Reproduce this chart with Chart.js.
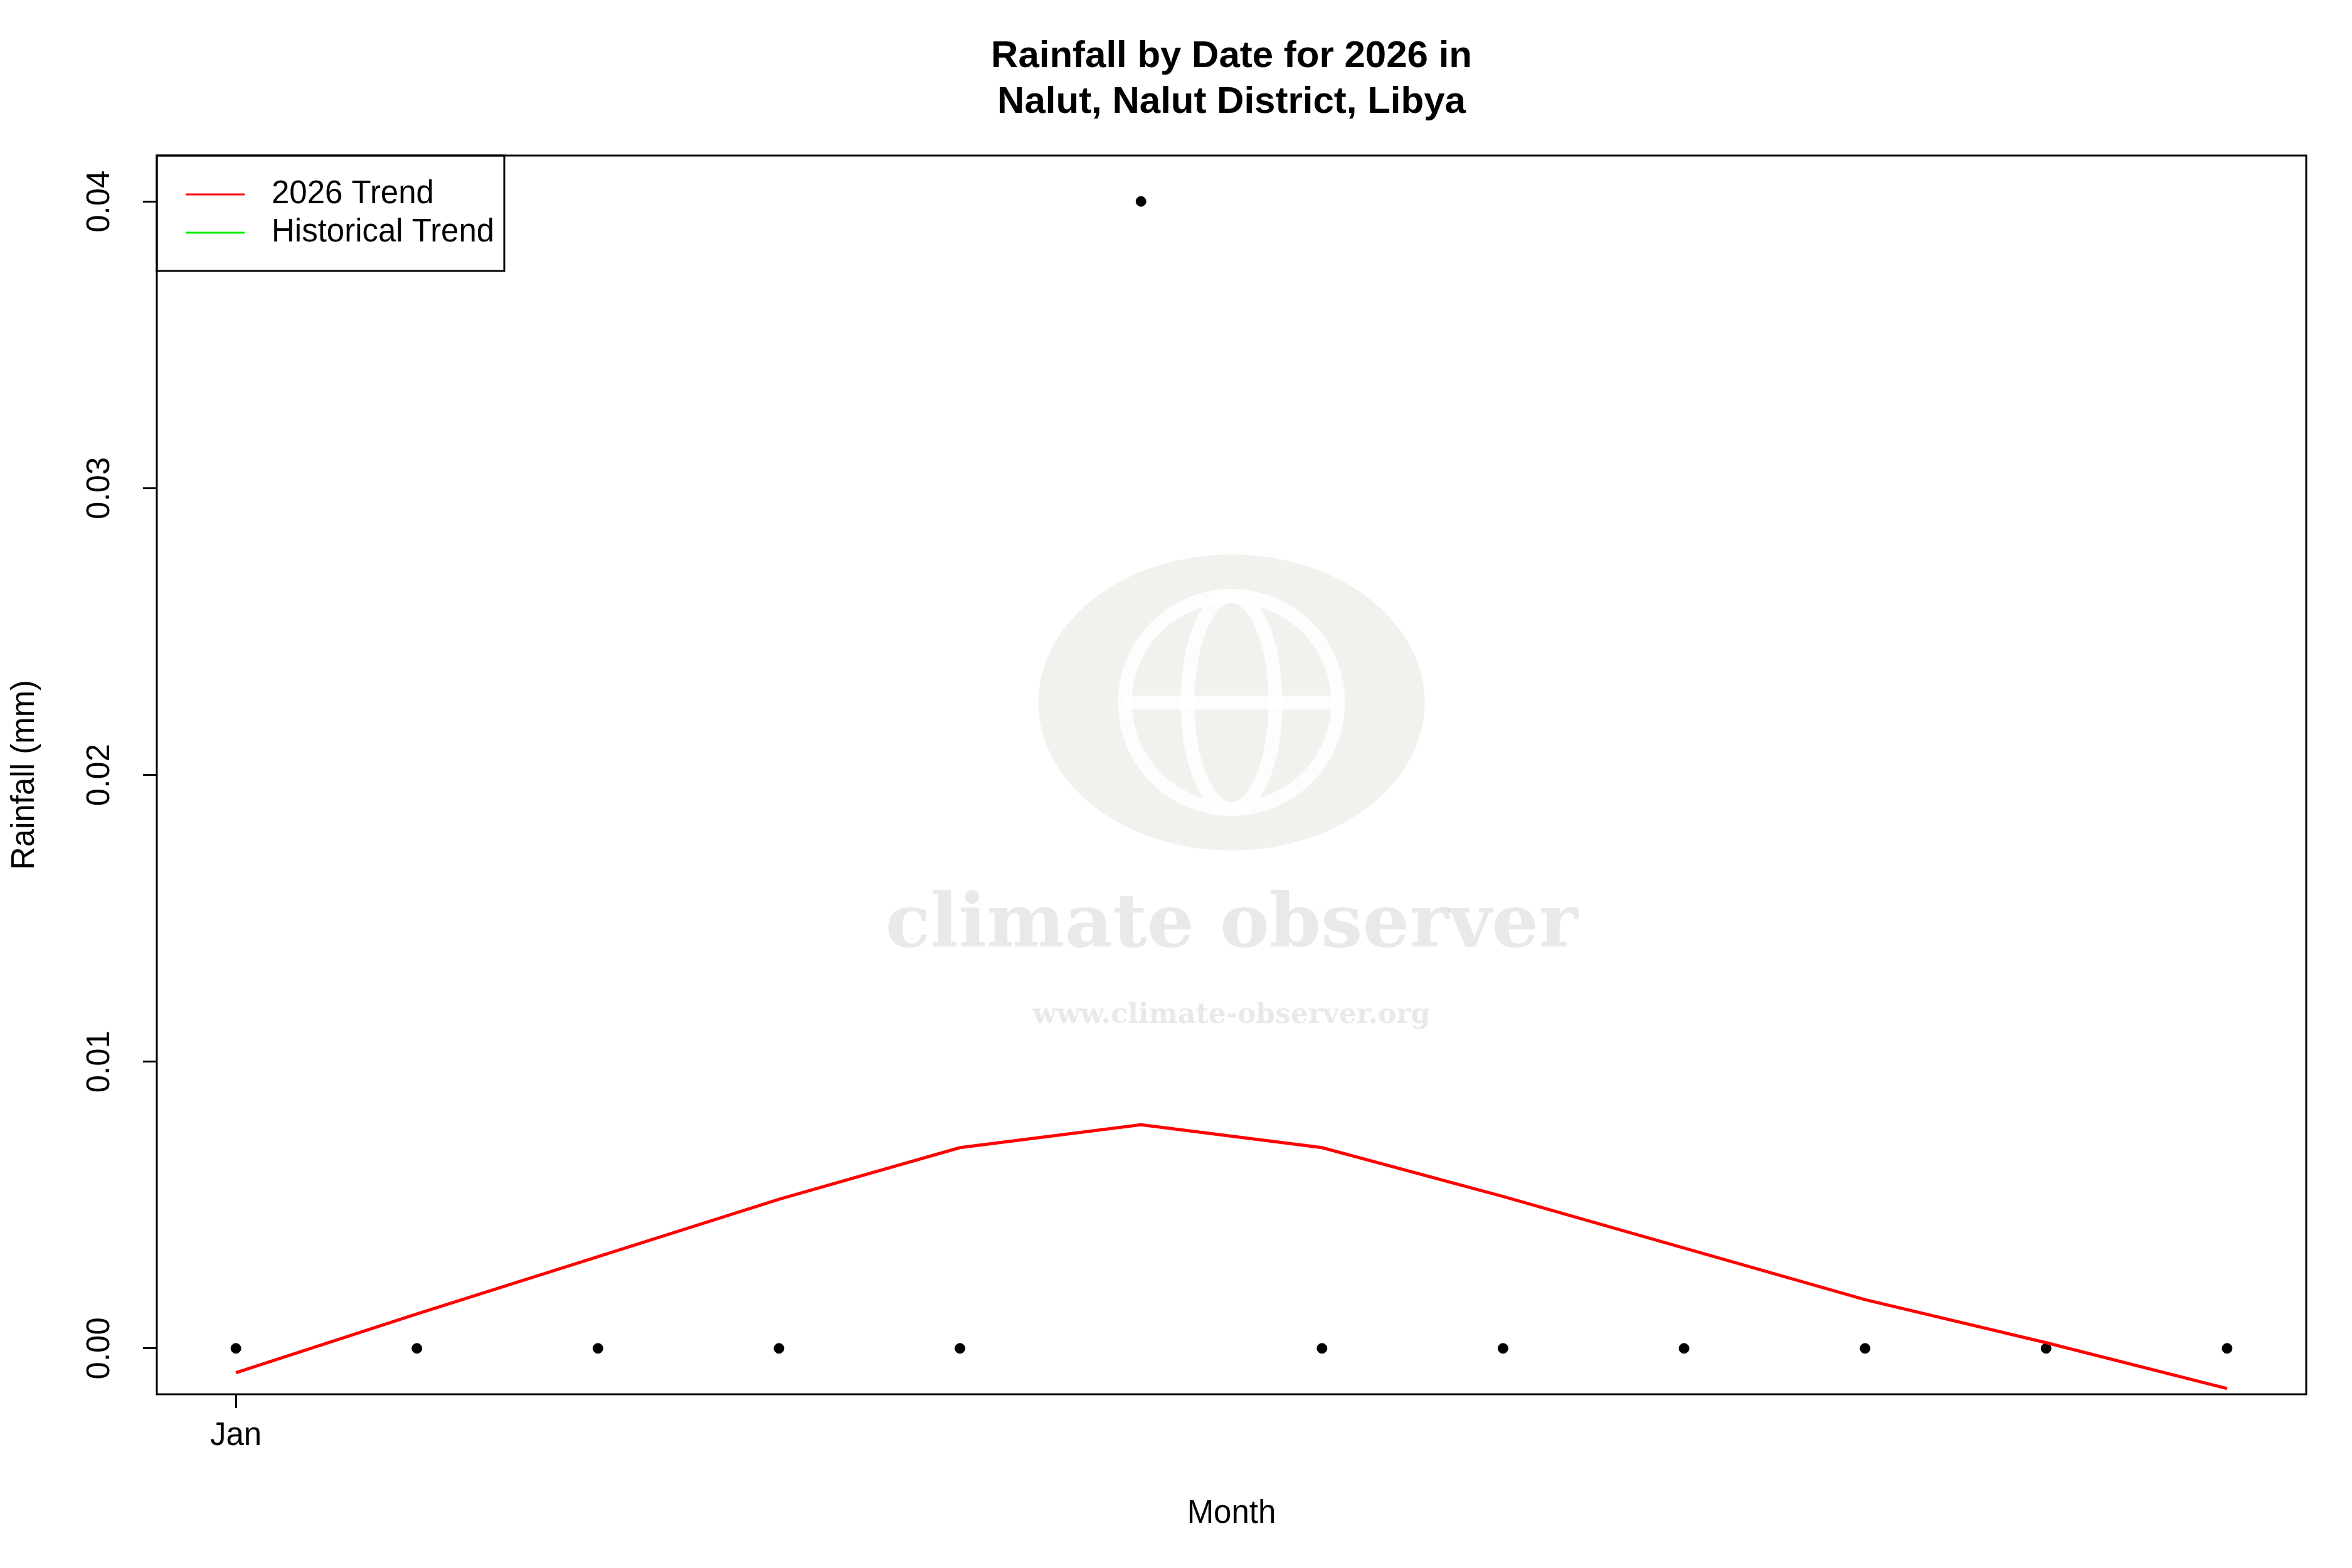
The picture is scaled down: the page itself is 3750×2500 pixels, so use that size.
<!DOCTYPE html>
<html lang="en">
<head>
<meta charset="UTF-8">
<title>Rainfall by Date for 2026 in Nalut</title>
<script src="https://cdn.jsdelivr.net/npm/chart.js"></script>
<style>
  body { margin: 0; background: #fff; }
</style>
</head>
<body>
<canvas id="c" width="3750" height="2500" style="width:3750px;height:2500px"></canvas>
<script>
const monthIdx = [0, 1, 2, 3, 4, 5, 6, 7, 8, 9, 10, 11];
const rainfall = [0, 0, 0, 0, 0, 0.04, 0, 0, 0, 0, 0, 0];
const trend2026 = [-0.00085, 0.0012, 0.0032, 0.0052, 0.0070, 0.0078, 0.0070, 0.0053, 0.0035, 0.0017, 0.0002, -0.0014];
const yTicks = [0, 0.01, 0.02, 0.03, 0.04];
const FONT = '"Liberation Sans", Arial, sans-serif';

const decor = {
  id: 'decor',
  beforeDatasetsDraw(chart) {
    const { ctx, chartArea: a } = chart;
    ctx.save();
    // watermark
    const cx = (a.left + a.right) / 2, cy = 1120;
    ctx.fillStyle = 'rgba(225,230,222,0.5)';
    ctx.beginPath(); ctx.ellipse(cx, cy, 308, 236, 0, 0, Math.PI * 2); ctx.fill();
    ctx.strokeStyle = 'rgba(255,255,255,0.9)'; ctx.lineWidth = 22;
    ctx.beginPath(); ctx.arc(cx, cy, 170, 0, Math.PI * 2); ctx.stroke();
    ctx.beginPath(); ctx.ellipse(cx, cy, 70, 170, 0, 0, Math.PI * 2); ctx.stroke();
    ctx.beginPath(); ctx.moveTo(cx - 170, cy); ctx.lineTo(cx + 170, cy); ctx.stroke();
    ctx.fillStyle = 'rgba(200,200,200,0.4)';
    ctx.textAlign = 'center'; ctx.textBaseline = 'middle';
    ctx.font = 'bold 118px "DejaVu Serif", serif';
    ctx.fillText('climate observer', cx, 1478);
    ctx.font = 'bold 44px "DejaVu Serif", serif';
    ctx.fillText('www.climate-observer.org', cx, 1620);
    ctx.restore();
  },
  afterDraw(chart) {
    const { ctx, chartArea: a, scales } = chart;
    ctx.save();
    ctx.strokeStyle = '#000'; ctx.lineWidth = 3;
    ctx.strokeRect(a.left, a.top, a.right - a.left, a.bottom - a.top);
    // title
    ctx.fillStyle = '#000'; ctx.textAlign = 'center'; ctx.textBaseline = 'middle';
    ctx.font = 'bold 60px ' + FONT;
    const tx = (a.left + a.right) / 2;
    ctx.fillText('Rainfall by Date for 2026 in', tx, 90);
    ctx.fillText('Nalut, Nalut District, Libya', tx, 163);
    // rotated y tick labels
    ctx.font = '51px ' + FONT;
    yTicks.forEach(v => {
      const y = scales.y.getPixelForValue(v);
      ctx.save(); ctx.translate(160, y); ctx.rotate(-Math.PI / 2);
      ctx.fillText(v.toFixed(2), 0, 0); ctx.restore();
    });
    ctx.save(); ctx.translate(40, (a.top + a.bottom) / 2); ctx.rotate(-Math.PI / 2);
    ctx.fillText('Rainfall (mm)', 0, 0); ctx.restore();
    // legend
    const lx = a.left, ly = a.top;
    ctx.lineWidth = 3; ctx.strokeRect(lx, ly, 554, 184);
    ctx.textAlign = 'left';
    [['2026 Trend', '#ff0000', 62], ['Historical Trend', '#00ee00', 123]].forEach(([t, c, dy]) => {
      ctx.strokeStyle = c; ctx.beginPath();
      ctx.moveTo(lx + 46, ly + dy); ctx.lineTo(lx + 140, ly + dy); ctx.stroke();
      ctx.fillText(t, lx + 183, ly + dy);
    });
    ctx.restore();
  }
};

new Chart(document.getElementById('c'), {
  type: 'scatter',
  data: {
    datasets: [
      {
        type: 'line', label: '2026 Trend',
        data: monthIdx.map((m, i) => ({ x: m, y: trend2026[i] })),
        borderColor: '#ff0000', borderWidth: 5, pointRadius: 0, tension: 0
      },
      {
        label: 'Rainfall',
        data: monthIdx.map((m, i) => ({ x: m, y: rainfall[i] })),
        backgroundColor: '#000', borderColor: '#000', pointRadius: 8
      }
    ]
  },
  options: {
    responsive: false, animation: false, devicePixelRatio: 1,
    layout: { padding: { top: 248, right: 73, left: 0, bottom: 0 } },
    plugins: { legend: { display: false }, tooltip: { enabled: false } },
    scales: {
      x: {
        type: 'linear', min: -0.437, max: 11.437,
        afterBuildTicks: s => { s.ticks = [{ value: 0 }]; },
        afterFit: s => { s.height = 277; },
        border: { display: false },
        grid: { drawOnChartArea: false, tickLength: 22, color: '#000', lineWidth: 3 },
        ticks: { callback: () => 'Jan', color: '#000', font: { size: 51, family: FONT }, maxRotation: 0, padding: 14 },
        title: { display: true, text: 'Month', color: '#000', font: { size: 51, family: FONT }, padding: { top: 0, bottom: 55 } }
      },
      y: {
        min: -0.0016, max: 0.0416,
        afterBuildTicks: s => { s.ticks = yTicks.map(v => ({ value: v })); },
        afterFit: s => { s.width = 250; },
        border: { display: false },
        grid: { drawOnChartArea: false, tickLength: 22, color: '#000', lineWidth: 3 },
        ticks: { color: 'rgba(0,0,0,0)', font: { size: 42, family: FONT } }
      }
    }
  },
  plugins: [decor]
});
</script>
</body>
</html>
